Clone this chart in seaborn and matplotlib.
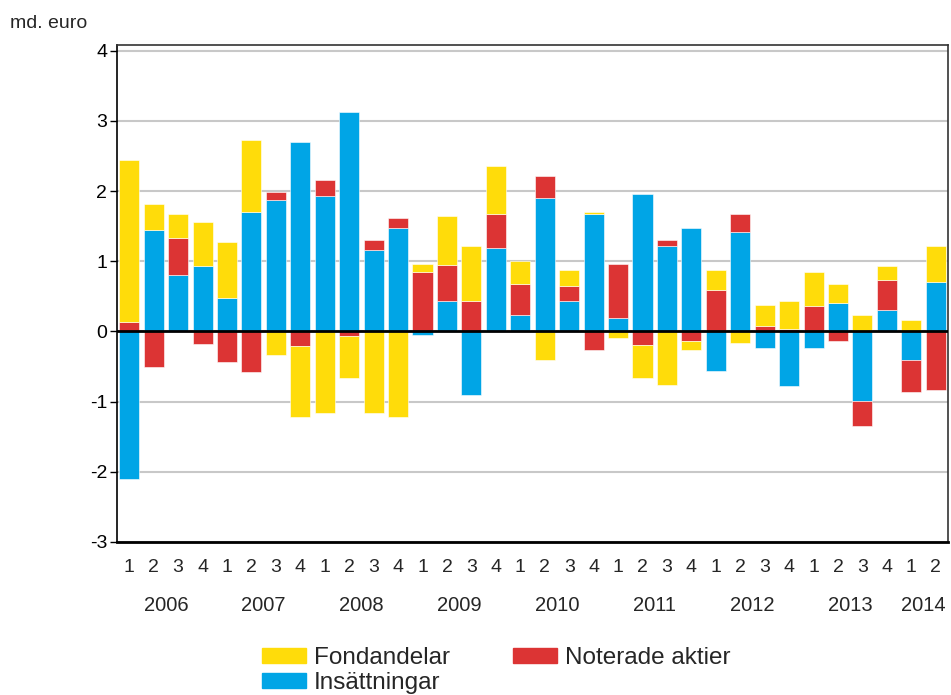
import numpy as np
import pandas as pd
import matplotlib
matplotlib.use("Agg")
import matplotlib.pyplot as plt
import matplotlib.patches as mpatches
import seaborn as sns

# Data (md. euro), quarters 2006Q1 .. 2014Q2
years = ["2006", "2007", "2008", "2009", "2010", "2011", "2012", "2013", "2014"]
quarters = ["1", "2", "3", "4"] * 8 + ["1", "2"]

insattningar = [-2.10, 1.44, 0.81, 0.93, 0.47, 1.70, 1.87, 2.70, 1.93, 3.13, 1.16, 1.47,
                -0.05, 0.44, -0.90, 1.19, 0.24, 1.90, 0.44, 1.67, 0.19, 1.96, 1.22, 1.47,
                -0.56, 1.42, -0.24, -0.78, -0.24, 0.41, -0.99, 0.30, -0.41, 0.70]
noterade = [0.13, -0.50, 0.52, -0.18, -0.44, -0.58, 0.12, -0.21, 0.23, -0.07, 0.14, 0.15,
            0.85, 0.51, 0.44, 0.48, 0.43, 0.31, 0.21, -0.27, 0.77, -0.19, 0.08, -0.13,
            0.59, 0.25, 0.07, 0.04, 0.36, -0.13, -0.36, 0.43, -0.46, -0.84]
fondandelar = [2.31, 0.37, 0.34, 0.63, 0.80, 1.03, -0.33, -1.01, -1.16, -0.60, -1.16, -1.22,
               0.11, 0.69, 0.78, 0.69, 0.34, -0.41, 0.22, 0.03, -0.10, -0.48, -0.76, -0.14,
               0.28, -0.16, 0.31, 0.40, 0.49, 0.26, 0.24, 0.20, 0.16, 0.52]

series = [("Insättningar", insattningar, "#00A5E6"),
          ("Noterade aktier", noterade, "#DC3434"),
          ("Fondandelar", fondandelar, "#FFDC0A")]

sns.set_theme(style="white")
plt.rcParams["font.family"] = ["Liberation Sans", "DejaVu Sans"]

fig = plt.figure(figsize=(9.51, 6.95), dpi=100)
ax = fig.add_axes([117 / 951, 1 - 542 / 695, (948 - 117) / 951, (542 - 45) / 695])

n = len(quarters)
idx = np.arange(n)
pos_base = np.zeros(n)
neg_base = np.zeros(n)
for name, vals, col in series:
    v = np.array(vals)
    bottom = np.where(v >= 0, pos_base, neg_base)
    df = pd.DataFrame({"q": idx, "v": v})
    sns.barplot(data=df, x="q", y="v", color=col, width=0.82, errorbar=None,
                bottom=bottom, saturation=1, ax=ax, edgecolor="white", linewidth=0.4)
    pos_base = pos_base + np.where(v >= 0, v, 0)
    neg_base = neg_base + np.where(v < 0, v, 0)

ax.set_xlim(-0.5, n - 0.5)
ax.set_ylim(-3, 4.08)
ax.set_yticks(range(-3, 5))
ax.set_yticklabels([str(t) for t in range(-3, 5)], fontsize=14)
ax.set_xticks(idx)
ax.set_xticklabels(quarters, fontsize=14)
ax.set_xlabel("")
ax.set_ylabel("")
ax.tick_params(axis="x", length=0, pad=12)
ax.tick_params(axis="y", length=5, width=1, direction="out", left=True, pad=2, colors="black")
ax.yaxis.grid(True, color="#C8C8C8", linewidth=1.5)
ax.set_axisbelow(True)
ax.axhline(0, color="black", linewidth=2, zorder=5)
for s in ax.spines.values():
    s.set_visible(True)
    s.set_color("#333333")
    s.set_linewidth(1.2)
ax.spines["left"].set_color("black")
ax.spines["bottom"].set_color("black")
ax.spines["bottom"].set_linewidth(2)

# year labels centered under each group of quarters
for i, yr in enumerate(years):
    start = i * 4
    end = min(start + 4, n)
    xc = (start + end - 1) / 2
    ax.text(xc, -0.128, yr, transform=ax.get_xaxis_transform(), ha="center", va="center",
            fontsize=14.5)

fig.text(10 / 951, 1 - 23 / 695, "md. euro", fontsize=14, va="center", ha="left")

handles = [mpatches.Patch(color=series[2][2], label="Fondandelar"),
           mpatches.Patch(color=series[0][2], label="Insättningar"),
           mpatches.Patch(color=series[1][2], label="Noterade aktier")]
fig.legend(handles=handles, ncol=2, loc="upper left", bbox_to_anchor=(262 / 951, 1 - 647 / 695),
           frameon=False, fontsize=17.5, handlelength=1.8, handleheight=0.55,
           handletextpad=0.33, columnspacing=2.6, labelspacing=0.12, borderpad=0,
           borderaxespad=0)

fig.savefig("out.png", dpi=100)
